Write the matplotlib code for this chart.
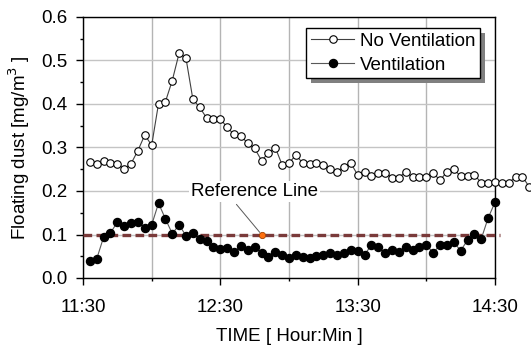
import numpy as np
import matplotlib
matplotlib.use('Agg')
import matplotlib.pyplot as plt
from matplotlib.patches import Rectangle
from matplotlib.transforms import IdentityTransform
from matplotlib.ticker import MultipleLocator, FuncFormatter

plt.rcParams['font.family'] = ['Liberation Sans', 'DejaVu Sans']

# sample times (every 3 min)
times = ['11:33', '11:36', '11:39', '11:42', '11:45', '11:48', '11:51', '11:54', '11:57', '12:00',
         '12:03', '12:06', '12:09', '12:12', '12:15', '12:18', '12:21', '12:24', '12:27', '12:30',
         '12:33', '12:36', '12:39', '12:42', '12:45', '12:48', '12:51', '12:54', '12:57', '13:00',
         '13:03', '13:06', '13:09', '13:12', '13:15', '13:18', '13:21', '13:24', '13:27', '13:30',
         '13:33', '13:36', '13:39', '13:42', '13:45', '13:48', '13:51', '13:54', '13:57', '14:00',
         '14:03', '14:06', '14:09', '14:12', '14:15', '14:18', '14:21', '14:24', '14:27', '14:30',
         '14:33', '14:36', '14:39', '14:42', '14:45']

no_vent = [0.267, 0.261, 0.269, 0.264, 0.263, 0.250, 0.263, 0.293, 0.329, 0.305,
           0.401, 0.405, 0.454, 0.517, 0.505, 0.411, 0.392, 0.368, 0.366, 0.366,
           0.346, 0.330, 0.326, 0.310, 0.298, 0.270, 0.287, 0.300, 0.260, 0.264,
           0.283, 0.264, 0.261, 0.264, 0.260, 0.250, 0.244, 0.256, 0.264, 0.237,
           0.244, 0.234, 0.241, 0.242, 0.231, 0.231, 0.244, 0.232, 0.232, 0.232,
           0.241, 0.225, 0.244, 0.250, 0.234, 0.234, 0.237, 0.219, 0.219, 0.220,
           0.219, 0.218, 0.233, 0.233, 0.209]

vent = [0.039, 0.044, 0.094, 0.104, 0.128, 0.120, 0.126, 0.129, 0.116, 0.122,
        0.172, 0.136, 0.102, 0.122, 0.097, 0.104, 0.089, 0.086, 0.071, 0.066,
        0.070, 0.060, 0.074, 0.064, 0.071, 0.058, 0.049, 0.060, 0.053, 0.045,
        0.053, 0.049, 0.047, 0.051, 0.054, 0.057, 0.053, 0.057, 0.064, 0.063,
        0.053, 0.076, 0.071, 0.057, 0.064, 0.060, 0.071, 0.064, 0.071, 0.076,
        0.058, 0.076, 0.076, 0.082, 0.063, 0.087, 0.101, 0.090, 0.138, 0.174]

ref_level = 0.1
ref_start, ref_end = '11:30', '14:32'
ref_mark = '12:48'

start = '11:30'


def to_min(s):
    h, m = s.split(':')
    h0, m0 = start.split(':')
    return (int(h) * 60 + int(m)) - (int(h0) * 60 + int(m0))


t = np.array([to_min(s) for s in times])

fig = plt.figure(figsize=(5.31, 3.47), dpi=100)
ax = fig.add_axes([83 / 531, 1 - 278 / 347, 412 / 531, 261 / 347])

# reference line
ax.plot([to_min(ref_start), to_min(ref_end)], [ref_level, ref_level], color='#7a3a3a',
        lw=2.4, dashes=(2.6, 1.3), dash_capstyle='butt', zorder=3, clip_on=False)
ax.plot([to_min(ref_mark)], [ref_level], 'o', ms=4.5, mfc='#ff7010', mec='#a04000', mew=0.6, zorder=6)

ax.plot(t, no_vent, color='0.25', lw=0.8, marker='o', ms=5.4, mfc='white', mec='black',
        mew=0.8, clip_on=False, zorder=4, label='No Ventilation')
ax.plot(t[:len(vent)], vent, color='0.35', lw=0.8, marker='o', ms=5.8, mfc='black', mec='black',
        clip_on=False, zorder=5, label='Ventilation')

ax.annotate('Reference Line', xy=(to_min(ref_mark), ref_level), xytext=(75, 0.198),
            ha='center', va='center', fontsize=13.5,
            bbox=dict(boxstyle='square,pad=0.1', fc='white', ec='none'),
            arrowprops=dict(arrowstyle='-', color='0.35', lw=0.7, relpos=(0.33, 0.0),
                            shrinkA=2, shrinkB=2), zorder=7)

ax.set_xlim(0, 180)
ax.set_ylim(0, 0.6)
ax.xaxis.set_major_locator(MultipleLocator(60))
ax.xaxis.set_minor_locator(MultipleLocator(30))
labels_x = ['11:30', '12:30', '13:30', '14:30']
ax.xaxis.set_major_formatter(FuncFormatter(lambda v, p: labels_x[int(round(v / 60))] if 0 <= round(v / 60) < 4 else ''))
ax.yaxis.set_major_locator(MultipleLocator(0.1))
ax.yaxis.set_minor_locator(MultipleLocator(0.05))
ax.yaxis.set_major_formatter(FuncFormatter(lambda v, p: f'{v:.1f}'))

ax.grid(True, which='major', axis='y', color='#c4c4c4', lw=1.0, zorder=0)
ax.grid(True, which='both', axis='x', color='#b4b4b4', lw=1.0, zorder=0)
ax.set_axisbelow(True)

ax.tick_params(which='major', direction='out', length=5, width=1, labelsize=13.5, pad=6)
ax.tick_params(which='minor', direction='out', length=2.5, width=1)
ax.tick_params(axis='x', which='major', pad=10)
for sp in ax.spines.values():
    sp.set_linewidth(1.0)
    sp.set_color('black')

ax.set_xlabel('TIME [ Hour:Min ]', fontsize=13.5, labelpad=9)
ax.set_ylabel('Floating dust [mg/m$^3$ ]', fontsize=13.5, labelpad=7)

leg = ax.legend(loc='upper right', bbox_to_anchor=((480 - 83) / 412, (278 - 28) / 261),
                fontsize=13.5, frameon=True, fancybox=False, framealpha=1, edgecolor='black',
                handlelength=2.3, handletextpad=0.3, labelspacing=0.35, borderpad=0.25,
                borderaxespad=0)
leg.get_frame().set_linewidth(1.0)
leg.set_zorder(10)

fig.canvas.draw()
bb = leg.get_window_extent()
shadow = Rectangle((bb.x0 + 5, bb.y0 - 5), bb.width, bb.height, transform=IdentityTransform(),
                   facecolor='#808080', edgecolor='none', zorder=9.5, clip_on=False)
ax.add_patch(shadow)

fig.savefig('out.png', dpi=100)
